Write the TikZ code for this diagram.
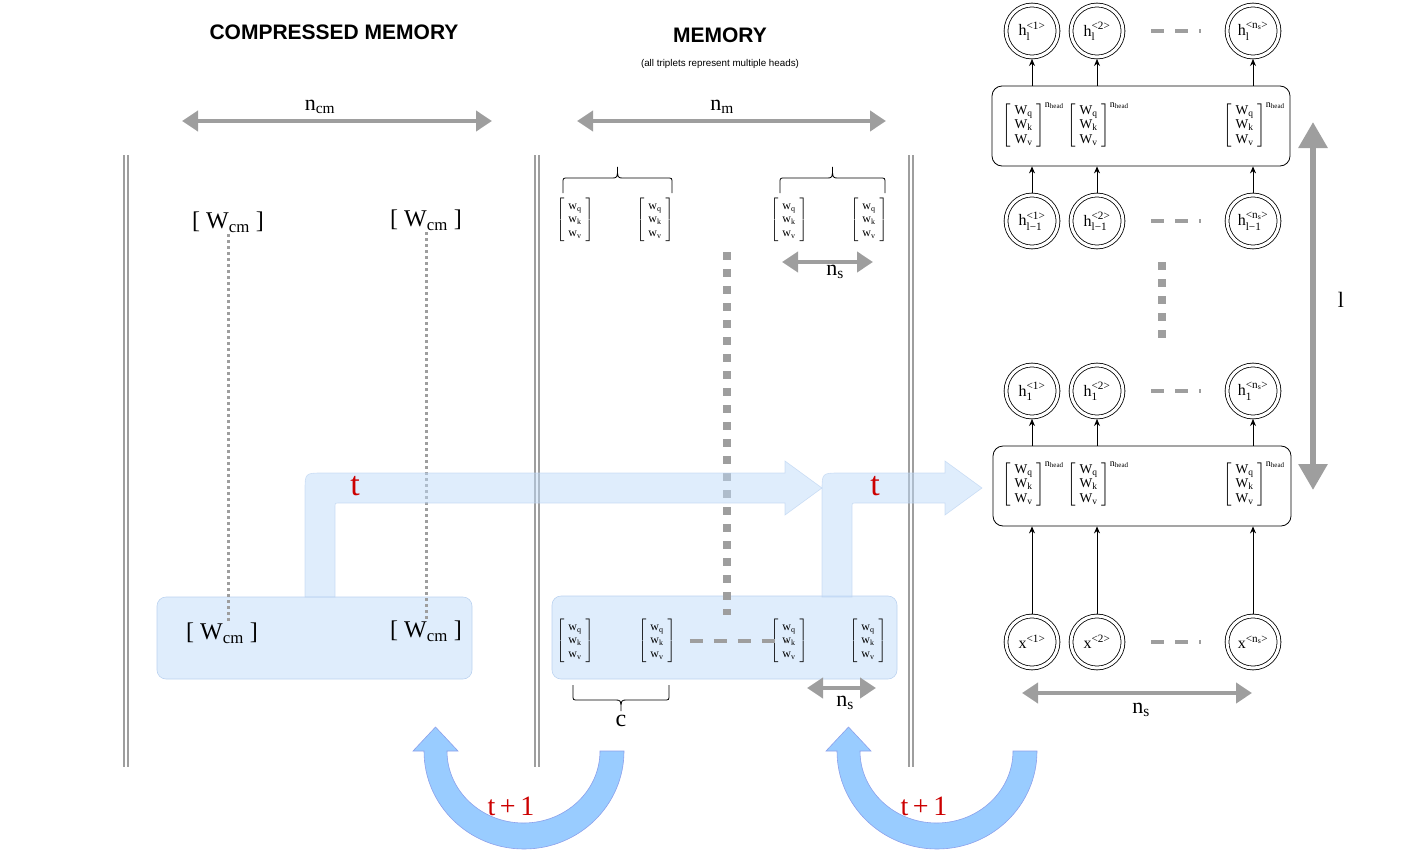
\documentclass[tikz,border=0pt]{standalone}
\usepackage{amsmath}
\usepackage{fontspec}
\setmainfont{Liberation Serif}
\setsansfont{Liberation Sans}
\usetikzlibrary{arrows.meta,positioning}
\definecolor{LineGray}{RGB}{158,158,158}
\definecolor{BlockBlue}{RGB}{223,237,252}
\definecolor{BlockEdge}{RGB}{188,211,240}
\definecolor{FlowBlue}{RGB}{191,219,249}
\definecolor{LoopBlue}{RGB}{153,204,255}
\definecolor{LoopEdge}{RGB}{140,160,235}
\definecolor{StepRed}{RGB}{204,0,0}
\newcommand{\memtrip}{$\left[\begin{tabular}{@{\hspace{4pt}}c@{\hspace{4pt}}}w\textsubscript{q}\\w\textsubscript{k}\\w\textsubscript{v}\end{tabular}\right]$}
\newcommand{\headtrip}{$\left[\begin{tabular}{@{\hspace{4pt}}c@{\hspace{4pt}}}W\textsubscript{q}\\W\textsubscript{k}\\W\textsubscript{v}\end{tabular}\right]^{\mbox{\fontsize{10}{11}\selectfont n\textsubscript{head}}}$}
\newcommand{\cellname}[3]{$\text{#1}_{\text{#2}}^{\text{<#3>}}$}
\newcommand{\tripbrace}[4]{% left x, right x, foot y, direction (-1 up, 1 down)
  \draw[bracepath] (#1,#3) -- (#1,{#3+10*#4}) .. controls (#1,{#3+15*#4}) .. ({#1+5},{#3+15*#4})
    -- ({(#1+#2)/2-6},{#3+15*#4}) .. controls ({(#1+#2)/2},{#3+15*#4}) .. ({(#1+#2)/2},{#3+26*#4})
    .. controls ({(#1+#2)/2},{#3+15*#4}) .. ({(#1+#2)/2+6},{#3+15*#4})
    -- ({#2-5},{#3+15*#4}) .. controls (#2,{#3+15*#4}) .. (#2,{#3+10*#4}) -- (#2,#3);}
\tikzset{
  headtitle/.style={font=\sffamily\bfseries\fontsize{21}{25}\selectfont},
  sizearrow/.style={draw=LineGray, line width=4pt,
    {Triangle[length=16pt,width=20pt]}-{Triangle[length=16pt,width=20pt]}},
  sizelabel/.style={font=\fontsize{22}{26}\selectfont, inner sep=1pt},
  divider/.style={draw=LineGray, line width=1.6pt, double=white, double distance=2.6pt},
  blueblock/.style={draw=BlockEdge, fill=BlockBlue, rounded corners=9pt, line width=0.6pt},
  cmlabel/.style={font=\fontsize{24}{28}\selectfont, inner sep=2pt},
  tripnode/.style={inner sep=0pt, font=\fontsize{12}{13.5}\selectfont},
  headnode/.style={inner sep=0pt, anchor=west, font=\fontsize{13.5}{14.5}\selectfont},
  bracepath/.style={draw, line width=0.8pt},
  dotline/.style={draw=LineGray, line width=3pt, dash pattern=on 3pt off 3pt},
  bigdash/.style={draw=LineGray, line width=8pt, dash pattern=on 8pt off 9pt},
  gapdash/.style={draw=LineGray, line width=4pt, dash pattern=on 13pt off 11pt},
  flowarrow/.style={fill=FlowBlue, fill opacity=0.5, draw=BlockEdge, draw opacity=0.7, line width=0.6pt},
  looparrow/.style={fill=LoopBlue, draw=LoopEdge, line width=0.6pt},
  steplabel/.style={text=StepRed, font=\fontsize{34}{36}\selectfont},
  neuron/.style={circle, draw, double, double distance=3pt, line width=0.8pt,
    minimum size=52pt, inner sep=0pt, outer sep=2pt, font=\fontsize{16}{18}\selectfont},
  layerbox/.style={draw, rounded corners=10pt, line width=0.8pt, minimum width=298pt, minimum height=80pt},
  tinyarrow/.style={-{Stealth[length=7pt,width=6pt]}, line width=0.8pt}
}
\begin{document}
\begin{tikzpicture}[x=1pt,y=-1pt]
\useasboundingbox (0,0) rectangle (1413,851);

% titles
\node[headtitle] (cmtitle) at (334,32) {COMPRESSED MEMORY};
\node[headtitle] (memtitle) at (720,35) {MEMORY};
\node[font=\sffamily\fontsize{9.8}{11}\selectfont] (memnote) at (720,64) {(all triplets represent multiple heads)};

% dividers
\draw[divider] (126,155) -- (126,767);
\draw[divider] (537,155) -- (537,767);
\draw[divider] (911,155) -- (911,767);

% sizes
\coordinate (cmL) at (182,121); \coordinate (cmR) at (492,121);
\coordinate (mL) at (577,121); \coordinate (mR) at (886,121);
\draw[sizearrow] (cmL) -- (cmR);
\draw[sizearrow] (mL) -- (mR);
\node[sizelabel] (ncm) at (320,107) {n\textsubscript{cm}};
\node[sizelabel] (nm) at (722,107) {n\textsubscript{m}};

% blocks
\node[blueblock, minimum width=315pt, minimum height=82pt] (cmbox) at (314.5,638) {};
\node[blueblock, minimum width=345pt, minimum height=83pt] (membox) at (724.5,637.5) {};

% compressed memory
\node[cmlabel] (cmtopA) at (228,222) {[ W\textsubscript{cm} ]};
\node[cmlabel] (cmtopB) at (426,220) {[ W\textsubscript{cm} ]};
\node[cmlabel] (cmbotA) at (222,633) {[ W\textsubscript{cm} ]};
\node[cmlabel] (cmbotB) at (426,631) {[ W\textsubscript{cm} ]};
\draw[dotline] (cmtopA.south) -- (cmtopA.south |- cmbotA.north);
\draw[dotline] (cmtopB.south) -- (cmtopB.south |- cmbotB.north);

% memory
\node[tripnode] (mtA) at (575,220) {\memtrip};
\node[tripnode] (mtB) at (655,220) {\memtrip};
\node[tripnode] (mtC) at (789,220) {\memtrip};
\node[tripnode] (mtD) at (869,220) {\memtrip};
\tripbrace{563}{672}{193}{-1}
\tripbrace{780}{885}{193}{-1}
\coordinate (nsL) at (782,262); \coordinate (nsR) at (873,262);
\draw[sizearrow] (nsL) -- (nsR);
\node[sizelabel] (nsA) at (835,272) {n\textsubscript{s}};

\node[tripnode] (mbA) at (575,641) {\memtrip};
\node[tripnode] (mbB) at (657,641) {\memtrip};
\node[tripnode] (mbC) at (789,641) {\memtrip};
\node[tripnode] (mbD) at (868,641) {\memtrip};
\draw[gapdash] ([xshift=14pt]mbB.east) -- ([xshift=17pt]mbC.west);
\coordinate (gapTop) at (727,252); \coordinate (gapBot) at (727,615);
\draw[bigdash] (gapTop) -- (gapBot);
\tripbrace{573}{669}{685}{1}
\node[cmlabel] (clabel) at (621,721) {c};
\coordinate (nsbL) at (807,688); \coordinate (nsbR) at (876,688);
\draw[sizearrow] (nsbL) -- (nsbR);
\node[sizelabel] (nsB) at (845,703) {n\textsubscript{s}};

% flow at step t
\filldraw[flowarrow] (305,597) -- (305,491) .. controls (305,473) .. (323,473) -- (785,473) -- (785,461)
  -- (822,488) -- (785,515) -- (785,503) -- (338,503) .. controls (335,503) .. (335,506) -- (335,597) -- cycle;
\filldraw[flowarrow] (822,597) -- (822,491) .. controls (822,473) .. (840,473) -- (945,473) -- (945,461)
  -- (982,488) -- (945,515) -- (945,503) -- (855,503) .. controls (852,503) .. (852,506) -- (852,597) -- cycle;
\node[steplabel] (tA) at (355,486) {t};
\node[steplabel] (tB) at (875,486) {t};

% loops to t+1
\filldraw[looparrow] (624,751) arc[start angle=0, end angle=180, x radius=100, y radius=98]
  -- (413,751) -- (435.5,727) -- (458,751) -- (447,751)
  arc[start angle=180, end angle=0, x radius=76.5, y radius=72] -- cycle;
\begin{scope}[xshift=413pt]
\filldraw[looparrow] (624,751) arc[start angle=0, end angle=180, x radius=100, y radius=98]
  -- (413,751) -- (435.5,727) -- (458,751) -- (447,751)
  arc[start angle=180, end angle=0, x radius=76.5, y radius=72] -- cycle;
\end{scope}
\node[steplabel, font=\fontsize{28}{30}\selectfont] (tpA) at (511,806) {t\,+\,1};
\node[steplabel, font=\fontsize{28}{30}\selectfont] (tpB) at (924,806) {t\,+\,1};

% network
\node[neuron] (ta) at (1032,31) {\cellname{h}{l}{1}};
\node[neuron] (tb) at (1097,31) {\cellname{h}{l}{2}};
\node[neuron] (tc) at (1253,31) {\cellname{h}{l}{n\textsubscript{s}}};
\node[layerbox] (lay2) at (1141,126) {};
\node[headnode] (wa2) at (1002,125) {\headtrip};
\node[headnode] (wb2) at (1067,125) {\headtrip};
\node[headnode] (wc2) at (1223,125) {\headtrip};
\node[neuron] (pa) at (1032,221) {\cellname{h}{l−1}{1}};
\node[neuron] (pb) at (1097,221) {\cellname{h}{l−1}{2}};
\node[neuron] (pc) at (1253,221) {\cellname{h}{l−1}{n\textsubscript{s}}};
\node[neuron] (ha) at (1032,391) {\cellname{h}{1}{1}};
\node[neuron] (hb) at (1097,391) {\cellname{h}{1}{2}};
\node[neuron] (hc) at (1253,391) {\cellname{h}{1}{n\textsubscript{s}}};
\node[layerbox] (lay1) at (1142,486) {};
\node[headnode] (wa1) at (1002,484) {\headtrip};
\node[headnode] (wb1) at (1067,484) {\headtrip};
\node[headnode] (wc1) at (1223,484) {\headtrip};
\node[neuron] (xa) at (1032,642) {$\text{x}^{\text{<1>}}$};
\node[neuron] (xb) at (1097,642) {$\text{x}^{\text{<2>}}$};
\node[neuron] (xc) at (1253,642) {$\text{x}^{\text{<n\textsubscript{s}>}}$};

\draw[tinyarrow] (xa) -- (xa |- lay1.south);
\draw[tinyarrow] (xb) -- (xb |- lay1.south);
\draw[tinyarrow] (xc) -- (xc |- lay1.south);
\draw[tinyarrow] (ha |- lay1.north) -- (ha);
\draw[tinyarrow] (hb |- lay1.north) -- (hb);
\draw[tinyarrow] (hc |- lay1.north) -- (hc);
\draw[tinyarrow] (pa) -- (pa |- lay2.south);
\draw[tinyarrow] (pb) -- (pb |- lay2.south);
\draw[tinyarrow] (pc) -- (pc |- lay2.south);
\draw[tinyarrow] (ta |- lay2.north) -- (ta);
\draw[tinyarrow] (tb |- lay2.north) -- (tb);
\draw[tinyarrow] (tc |- lay2.north) -- (tc);

\draw[gapdash] ([xshift=26pt]tb.east) -- ([xshift=-24pt]tc.west);
\draw[gapdash] ([xshift=26pt]pb.east) -- ([xshift=-24pt]pc.west);
\draw[gapdash] ([xshift=26pt]hb.east) -- ([xshift=-24pt]hc.west);
\draw[gapdash] ([xshift=26pt]xb.east) -- ([xshift=-24pt]xc.west);
\coordinate (layTop) at (1162,262); \coordinate (layBot) at (1162,342);
\draw[bigdash] (layTop) -- (layBot);

\coordinate (nsnL) at (1022,693); \coordinate (nsnR) at (1252,693);
\draw[sizearrow] (nsnL) -- (nsnR);
\node[sizelabel] (nsC) at (1141,710) {n\textsubscript{s}};
\coordinate (depTop) at (1313,122); \coordinate (depBot) at (1313,490);
\draw[sizearrow, line width=6pt, {Triangle[length=26pt,width=28pt]}-{Triangle[length=26pt,width=28pt]}] (depTop) -- (depBot);
\node[sizelabel] (depth) at (1341,300) {l};
\end{tikzpicture}
\end{document}
